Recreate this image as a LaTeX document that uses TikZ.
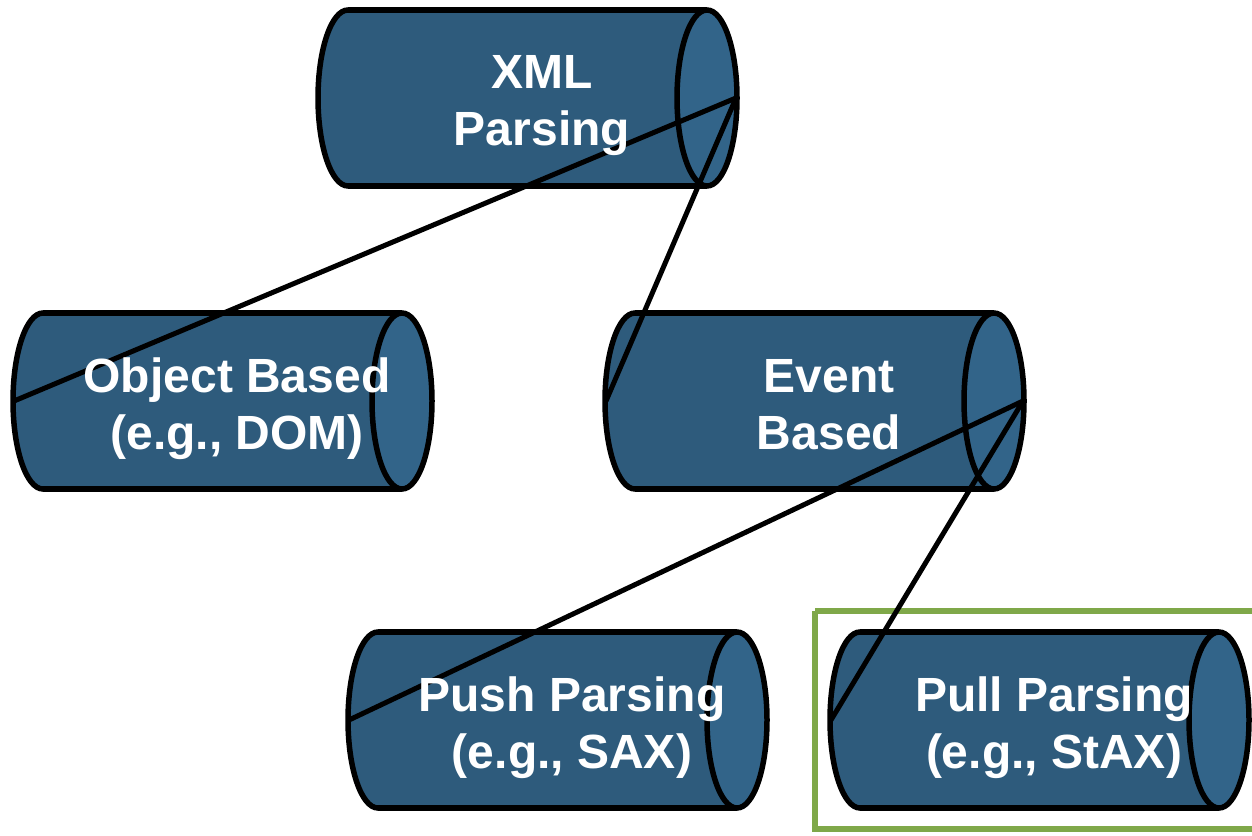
\documentclass[tikz,border=0pt]{standalone}
\usepackage{fontspec}
\setmainfont{Liberation Sans}
\definecolor{cylbody}{RGB}{46,91,124}
\definecolor{cylcap}{RGB}{50,100,137}
\definecolor{selgreen}{RGB}{127,168,73}
\newcommand\mycyl[3]{%
\begin{scope}[shift={(#2,#3)}]
 \filldraw[cylout, fill=cylbody] (30,88) ellipse [x radius=30, y radius=88];
 \fill[cylbody] (30,0) rectangle (389,176);
 \draw[cylout] (30,0) -- (389,0) (30,176) -- (389,176);
 \filldraw[cylout, fill=cylcap] (389,88) ellipse [x radius=30, y radius=88];
 \coordinate (#1-l) at (1,88);
 \coordinate (#1-r) at (418,88);
\end{scope}}
\tikzset{
 cylout/.style={draw=black, line width=5.5pt},
 conn/.style={draw=black, line width=5pt},
 lbl/.style={text=white, font=\fontsize{48}{57}\selectfont\bfseries, align=center, anchor=base, inner sep=0pt},
 selbox/.style={draw=selgreen, line width=6pt}
}
\begin{document}
\begin{tikzpicture}[x=1pt,y=-1pt]
\useasboundingbox (0,0) rectangle (1252,835);
\mycyl{xml}{318}{10}
\mycyl{obj}{13}{313}
\mycyl{evt}{605}{313}
\mycyl{push}{348}{632}
\mycyl{pull}{830}{632}
\draw[selbox] (815,611) -- (1260,611) (815,611) -- (815,829) -- (1260,829);
\draw[conn] (xml-r) -- (obj-l);
\draw[conn] (xml-r) -- (evt-l);
\draw[conn] (evt-r) -- (push-l);
\draw[conn] (evt-r) -- (pull-l);
\node[lbl] (txml) at (542,145) {XML\\Parsing};
\node[lbl] (tobj) at (237,449) {Object Based\\(e.g., DOM)};
\node[lbl] (tevt) at (829,449) {Event\\Based};
\node[lbl] (tpush) at (572,768) {Push Parsing\\(e.g., SAX)};
\node[lbl] (tpull) at (1054,768) {Pull Parsing\\(e.g., StAX)};
\end{tikzpicture}
\end{document}
